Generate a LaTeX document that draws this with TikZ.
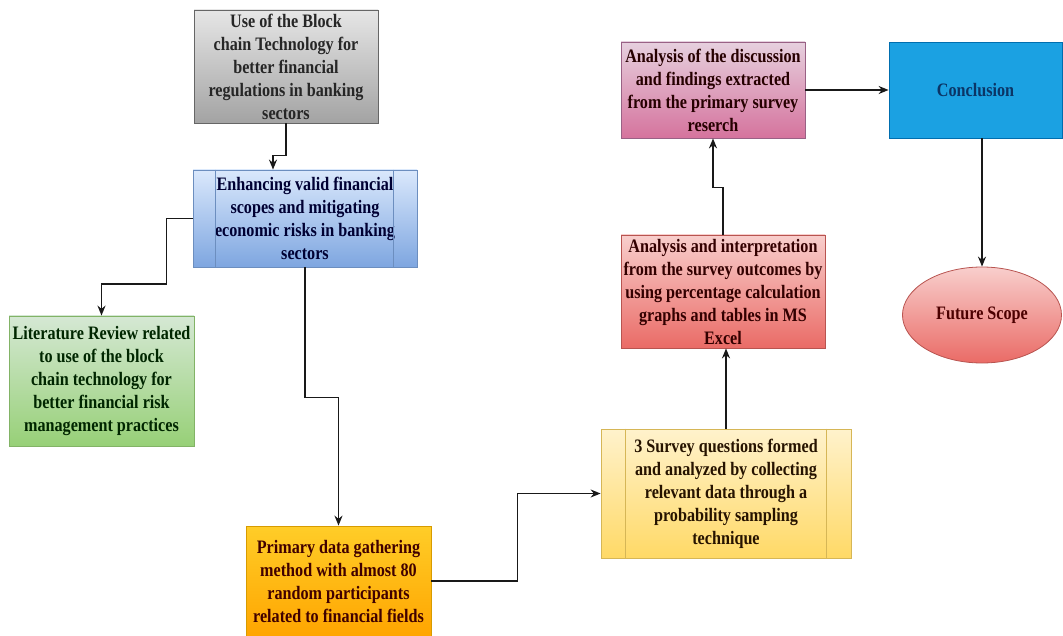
\documentclass[tikz,border=0pt]{standalone}
\usepackage{fontspec}
\setmainfont{Liberation Serif}[FakeStretch=0.85]
\usepackage{xcolor}
\usetikzlibrary{arrows.meta,shapes.geometric,positioning}

\definecolor{greytop}{HTML}{E6E6E6}
\definecolor{greybot}{HTML}{A3A3A3}
\definecolor{greyline}{HTML}{666666}
\definecolor{bluetop}{HTML}{DAE8FC}
\definecolor{bluebot}{HTML}{7EA6E0}
\definecolor{blueline}{HTML}{6C8EBF}
\definecolor{greentop}{HTML}{D5E8D4}
\definecolor{greenbot}{HTML}{97D077}
\definecolor{greenline}{HTML}{82B366}
\definecolor{orangetop}{HTML}{FFCD28}
\definecolor{orangebot}{HTML}{FFA500}
\definecolor{orangeline}{HTML}{D79B00}
\definecolor{yellowtop}{HTML}{FFF2CC}
\definecolor{yellowbot}{HTML}{FFD966}
\definecolor{yellowline}{HTML}{D6B656}
\definecolor{redtop}{HTML}{F8CECC}
\definecolor{redbot}{HTML}{EA6B66}
\definecolor{redline}{HTML}{B85450}
\definecolor{pinktop}{HTML}{E6D0DE}
\definecolor{pinkbot}{HTML}{D5739D}
\definecolor{pinkline}{HTML}{996185}
\definecolor{conclfill}{HTML}{1BA1E2}
\definecolor{conclline}{HTML}{006EAF}
\definecolor{concltext}{HTML}{0B3566}

\begin{document}
\begin{tikzpicture}[
  x=1pt,y=-1pt,
  card/.style={draw,line width=0.8pt,align=center,inner sep=2pt,
    font=\bfseries\fontsize{19}{23}\selectfont},
  greybox/.style={card,draw=greyline,top color=greytop,bottom color=greybot,
    text=black!85,minimum width=184pt,minimum height=113pt},
  bluebox/.style={card,draw=blueline,top color=bluetop,bottom color=bluebot,
    text=black!80!blue,minimum width=224pt,minimum height=97pt},
  greenbox/.style={card,draw=greenline,top color=greentop,bottom color=greenbot,
    text=black!85!green,minimum width=185pt,minimum height=130pt},
  orangebox/.style={card,draw=orangeline,top color=orangetop,bottom color=orangebot,
    text=black!75!red,minimum width=185pt,minimum height=110pt},
  yellowbox/.style={card,draw=yellowline,top color=yellowtop,bottom color=yellowbot,
    text=black!85!orange,minimum width=250pt,minimum height=129pt},
  redbox/.style={card,draw=redline,top color=redtop,bottom color=redbot,
    text=black!80!red,minimum width=204pt,minimum height=113pt},
  pinkbox/.style={card,draw=pinkline,top color=pinktop,bottom color=pinkbot,
    text=black!85!red,minimum width=184pt,minimum height=96pt},
  conclbox/.style={card,draw=conclline,fill=conclfill,
    text=concltext,minimum width=173pt,minimum height=96pt},
  futureoval/.style={card,ellipse,draw=redline,top color=redtop,bottom color=redbot,
    text=black!70!red,minimum width=159pt,minimum height=96pt,inner sep=0pt},
  arrow/.style={-{Stealth[length=10pt,width=8pt]},line width=1.5pt,draw=black!90}
]
\useasboundingbox (0,0) rectangle (1063,636);

\node[greybox] (useblock) at (286,66.5) {Use of the Block\\chain Technology for\\better financial\\regulations in banking\\sectors};
\node[bluebox] (enhance) at (305,218.5) {Enhancing valid financial\\scopes and mitigating\\economic risks in banking\\sectors};
\node[greenbox] (litreview) at (101.5,381) {Literature Review related\\to use of the block\\chain technology for\\better financial risk\\management practices};
\node[orangebox] (primary) at (338.5,581) {Primary data gathering\\method with almost 80\\random participants\\related to financial fields};
\node[yellowbox] (survey) at (726,493.5) {3 Survey questions formed\\and analyzed by collecting\\relevant data through a\\probability sampling\\technique};
\node[redbox] (interpret) at (723,291.5) {Analysis and interpretation\\from the survey outcomes by\\using percentage calculation\\graphs and tables in MS\\Excel};
\node[pinkbox] (findings) at (713,90) {Analysis of the discussion\\and findings extracted\\from the primary survey\\reserch};
\node[conclbox] (concl) at (975.5,90) {Conclusion};
\node[futureoval] (future) at (982,315) {Future Scope};

% side bars of the two process boxes
\draw[blueline,line width=0.8pt] ([xshift=23]enhance.north west) -- ([xshift=23]enhance.south west);
\draw[blueline,line width=0.8pt] ([xshift=-24]enhance.north east) -- ([xshift=-24]enhance.south east);
\draw[yellowline,line width=0.8pt] ([xshift=25]survey.north west) -- ([xshift=25]survey.south west);
\draw[yellowline,line width=0.8pt] ([xshift=-25]survey.north east) -- ([xshift=-25]survey.south east);

\draw[arrow] (useblock.south) -- ++(0,32) -| ([xshift=-32]enhance.north);
\draw[arrow] (enhance.west) -- ++(-26,0) -- ++(0,65.5) -| (litreview.north);
\draw[arrow] (enhance.south) -- ++(0,130) -| (primary.north);
\draw[arrow] (primary.east) -- ++(86,0) |- (survey.west);
\draw[arrow] (survey.north) -- (survey.north |- interpret.south);
\draw[arrow] (interpret.north) -- ++(0,-47) -| (findings.south);
\draw[arrow] (findings) -- (concl);
\draw[arrow] (concl.south -| future.north) -- (future.north);
\end{tikzpicture}
\end{document}
